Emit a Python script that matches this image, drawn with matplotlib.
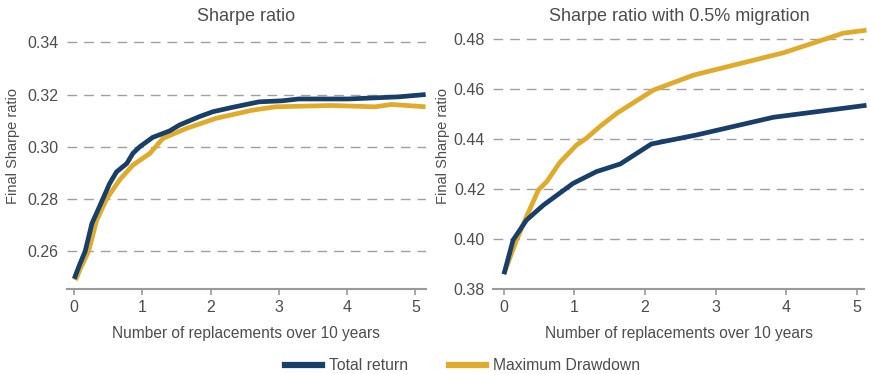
import matplotlib
matplotlib.use("Agg")
import matplotlib.pyplot as plt
from matplotlib.lines import Line2D

plt.rcParams['font.family'] = ['Liberation Sans', 'DejaVu Sans']

# Left panel: Sharpe ratio
sr_tr_x = [0.0, 0.08, 0.16, 0.26, 0.38, 0.52, 0.62, 0.77, 0.86, 0.96, 1.15, 1.40,
           1.54, 1.83, 2.03, 2.32, 2.71, 3.05, 3.29, 4.02, 4.75, 5.15]
sr_tr_y = [0.2495, 0.2550, 0.2600, 0.2707, 0.2777, 0.2860, 0.2904, 0.2936, 0.2975,
           0.3000, 0.3036, 0.3061, 0.3083, 0.3115, 0.3134, 0.3151, 0.3172, 0.3176,
           0.3183, 0.3183, 0.3191, 0.3200]
sr_md_x = [0.02, 0.10, 0.21, 0.33, 0.48, 0.67, 0.86, 1.11, 1.30, 1.64, 2.08, 2.61,
           2.95, 3.77, 4.41, 4.65, 5.15]
sr_md_y = [0.2490, 0.2540, 0.2600, 0.2720, 0.2803, 0.2875, 0.2930, 0.2975, 0.3032,
           0.3070, 0.3109, 0.3140, 0.3153, 0.3158, 0.3153, 0.3162, 0.3153]

# Right panel: Sharpe ratio with 0.5% migration
mig_tr_x = [0.0, 0.13, 0.32, 0.56, 0.98, 1.31, 1.65, 2.09, 2.73, 3.82, 5.14]
mig_tr_y = [0.3858, 0.3995, 0.4075, 0.4135, 0.4222, 0.4269, 0.4300, 0.4380, 0.4416,
            0.4487, 0.4535]
mig_md_x = [0.0, 0.18, 0.32, 0.49, 0.61, 0.79, 1.03, 1.17, 1.36, 1.60, 2.12, 2.69,
            3.97, 4.81, 5.14]
mig_md_y = [0.3860, 0.3995, 0.4089, 0.4196, 0.4230, 0.4305, 0.4376, 0.4403, 0.4450,
            0.4503, 0.4596, 0.4656, 0.4746, 0.4824, 0.4836]

left_yticks = [0.26, 0.28, 0.30, 0.32, 0.34]
right_yticks = [0.38, 0.40, 0.42, 0.44, 0.46, 0.48]
xticks = [0, 1, 2, 3, 4, 5]

titles = ["Sharpe ratio", "Sharpe ratio with 0.5% migration"]
xlabel = "Number of replacements over 10 years"
ylabel = "Final Sharpe ratio"
series_names = ["Total return", "Maximum Drawdown"]

NAVY = "#183E6A"
GOLD = "#E0AB2B"
TXT = "#4d4d4d"
GRID = "#a0a0a0"

W, H = 871, 374
fig = plt.figure(figsize=(W / 100, H / 100), dpi=100)
ax1 = fig.add_axes([0.0766, 0.228, 0.412, 0.694])
ax2 = fig.add_axes([0.5664, 0.228, 0.426, 0.694])

panels = [
    (ax1, sr_tr_x, sr_tr_y, sr_md_x, sr_md_y, left_yticks, (0.2457, 0.345), (-0.11, 5.15), 13.0),
    (ax2, mig_tr_x, mig_tr_y, mig_md_x, mig_md_y, right_yticks, (0.38, 0.484), (-0.15, 5.11), 443.0),
]

for i, (ax, tx, ty, mx, my, yt, ylim, xlim, ylab_x) in enumerate(panels):
    ax.plot(tx, ty, color=NAVY, lw=3.4, solid_capstyle='butt', zorder=3, clip_on=False)
    ax.plot(mx, my, color=GOLD, lw=3.4, solid_capstyle='butt', zorder=2, clip_on=False)
    ax.set_xlim(*xlim)
    ax.set_ylim(*ylim)
    ax.set_xticks(xticks)
    ax.set_yticks(yt)
    ax.set_yticklabels([f"{v:.2f}" for v in yt])
    ax.grid(axis='y', linestyle=(0, (7, 5)), color=GRID, lw=1.0)
    ax.set_axisbelow(True)
    for s in ['top', 'right', 'left']:
        ax.spines[s].set_visible(False)
    ax.spines['bottom'].set_color("#9a9a9a")
    ax.spines['bottom'].set_linewidth(1.5)
    ax.tick_params(axis='y', length=0, labelsize=11.5, labelcolor=TXT, pad=6)
    ax.tick_params(axis='x', length=4, width=1.2, color="#9a9a9a", labelsize=11.5,
                   labelcolor=TXT, pad=4)
    ax.set_title(titles[i], fontsize=13, color=TXT, pad=6)
    ax.set_xlabel(xlabel, fontsize=11.2, color=TXT, labelpad=8)
    fig.text(ylab_x / W, 1 - 145.5 / H, ylabel, rotation=90, ha='center', va='center',
             fontsize=10.5, color=TXT)

handles = [Line2D([], [], color=NAVY, lw=4.5), Line2D([], [], color=GOLD, lw=4.5)]
fig.legend(handles, series_names, loc='center', bbox_to_anchor=(0.531, 0.022),
           ncol=2, frameon=False, fontsize=11.3, labelcolor=TXT, handlelength=2.4,
           columnspacing=2.55, handletextpad=0.45)

fig.savefig("out.png", dpi=100)
